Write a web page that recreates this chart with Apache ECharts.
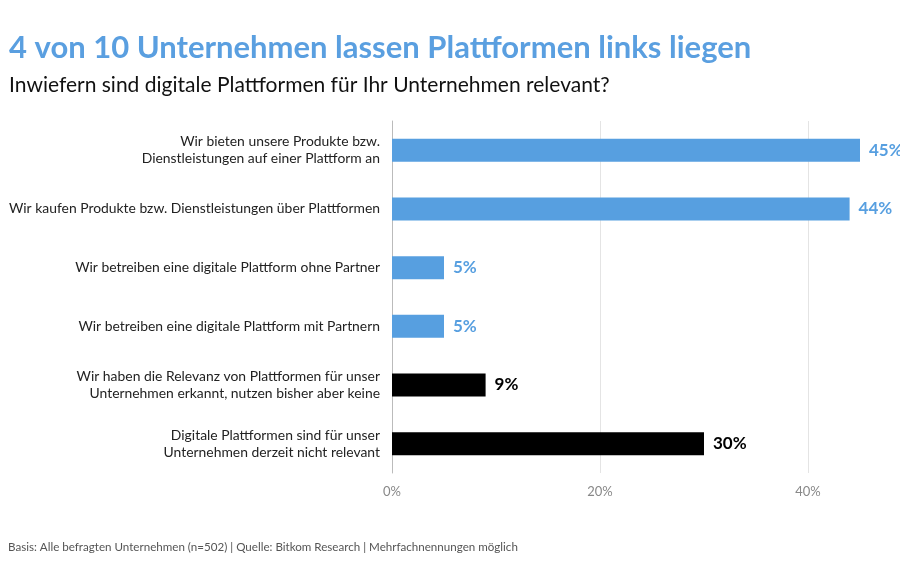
<!DOCTYPE html>
<html>
<head>
<meta charset="utf-8">
<script src="https://cdn.jsdelivr.net/npm/echarts@6/dist/echarts.min.js"></script>
<style>
  html, body { margin: 0; padding: 0; background: #fff; }
  #main { width: 900px; height: 563px; }
</style>
</head>
<body>
<div id="main"></div>
<script>
var categories = [
    'Wir bieten unsere Produkte bzw.\nDienstleistungen auf einer Plattform an',
    'Wir kaufen Produkte bzw. Dienstleistungen über Plattformen',
    'Wir betreiben eine digitale Plattform ohne Partner',
    'Wir betreiben eine digitale Plattform mit Partnern',
    'Wir haben die Relevanz von Plattformen für unser\nUnternehmen erkannt, nutzen bisher aber keine',
    'Digitale Plattformen sind für unser\nUnternehmen derzeit nicht relevant'
];
var values = [45, 44, 5, 5, 9, 30];
// nutzt Plattformen (ja) oder nicht (nein)
var groups = ['ja', 'ja', 'ja', 'ja', 'nein', 'nein'];
var xTicks = [0, 20, 40, 60];

var groupColor = { ja: '#579fe0', nein: '#000000' };

var barData = values.map(function(v, i) {
    var c = groupColor[groups[i]];
    return {
        value: v,
        itemStyle: { color: c },
        label: { color: c }
    };
});

var myChart = echarts.init(document.getElementById('main'));
var option = {
    backgroundColor: '#fff',
    animation: false,
    textStyle: { fontFamily: 'Lato' },
    title: [{
        text: '4 von 10 Unternehmen lassen Plattformen links liegen',
        left: 4,
        top: 27,
        textStyle: { fontFamily: 'Lato', fontSize: 31, fontWeight: 'bold', color: '#5a9fe0' }
    }, {
        text: 'Inwiefern sind digitale Plattformen für Ihr Unternehmen relevant?',
        left: 4,
        top: 70,
        textStyle: { fontFamily: 'Lato', fontSize: 21, fontWeight: 'normal', color: '#111' }
    }, {
        text: 'Basis: Alle befragten Unternehmen (n=502) | Quelle: Bitkom Research | Mehrfachnennungen möglich',
        left: 3,
        top: 536,
        textStyle: { fontFamily: 'Lato', fontSize: 11.6, fontWeight: 'normal', color: '#555' }
    }],
    grid: {
        left: 392,
        top: 121,
        width: 624,
        height: 352,
        outerBoundsMode: 'none'
    },
    xAxis: {
        type: 'value',
        min: xTicks[0],
        max: xTicks[xTicks.length - 1],
        interval: 20,
        axisLine: { show: false },
        axisTick: { show: false },
        splitLine: { lineStyle: { color: '#e4e4e4', width: 1 } },
        axisLabel: {
            margin: 12,
            fontSize: 13,
            color: '#888',
            formatter: '{value}%'
        }
    },
    yAxis: {
        type: 'category',
        inverse: true,
        data: categories,
        axisLine: { show: true, lineStyle: { color: '#bbbbbb', width: 1 } },
        axisTick: { show: false },
        axisLabel: {
            margin: 12,
            fontSize: 13.9,
            lineHeight: 17,
            color: '#222',
            align: 'right'
        }
    },
    series: [{
        type: 'bar',
        data: barData,
        barWidth: 23,
        label: {
            show: true,
            position: 'right',
            distance: 9,
            fontSize: 17,
            fontWeight: 'bold',
            formatter: '{c}%'
        }
    }]
};
myChart.setOption(option);
</script>
</body>
</html>
